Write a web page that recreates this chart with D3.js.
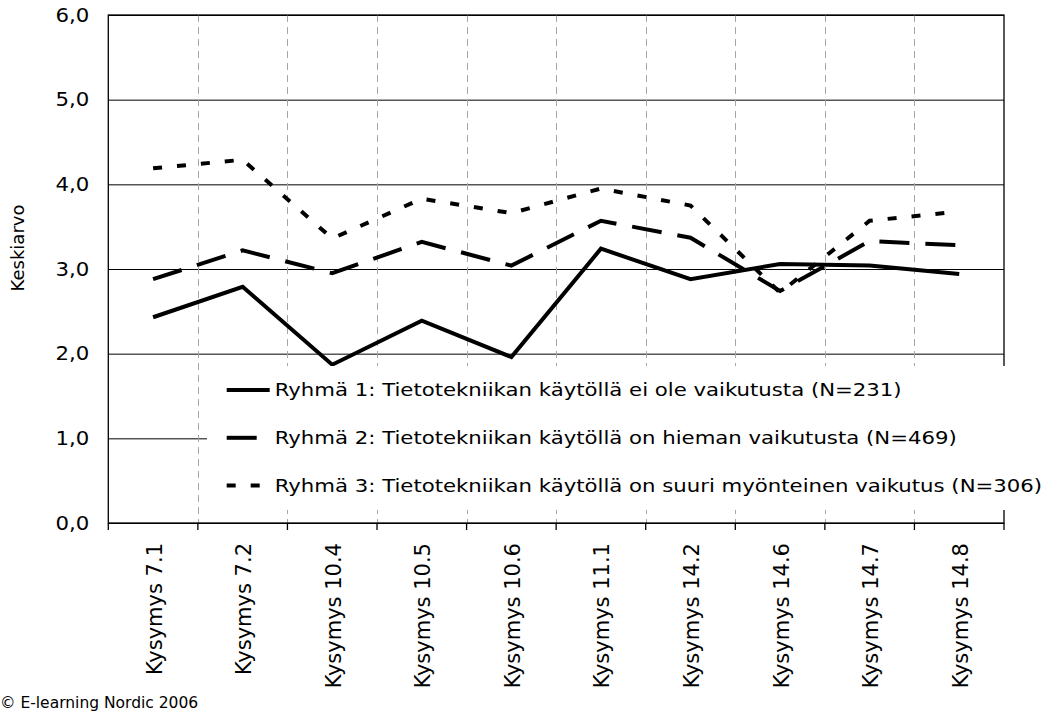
<!DOCTYPE html>
<html>
<head>
<meta charset="utf-8">
<script src="https://cdn.jsdelivr.net/npm/d3@7"></script>
<style>
  body { margin: 0; background: #fff; }
  text { font-family: "DejaVu Sans", Verdana, sans-serif; fill: #000; }
</style>
</head>
<body>
<div id="chart"></div>
<script>
// values
var categories = ["Kysymys 7.1", "Kysymys 7.2", "Kysymys 10.4", "Kysymys 10.5", "Kysymys 10.6",
                  "Kysymys 11.1", "Kysymys 14.2", "Kysymys 14.6", "Kysymys 14.7", "Kysymys 14.8"];
var ryhma1 = [2.43, 2.79, 1.87, 2.39, 1.96, 3.24, 2.88, 3.06, 3.04, 2.94];
var ryhma2 = [2.88, 3.22, 2.95, 3.32, 3.04, 3.57, 3.37, 2.74, 3.33, 3.28];
var ryhma3 = [4.19, 4.29, 3.36, 3.83, 3.66, 3.95, 3.75, 2.72, 3.57, 3.68];
var seriesNames = [
    "Ryhmä 1: Tietotekniikan käytöllä ei ole vaikutusta (N=231)",
    "Ryhmä 2: Tietotekniikan käytöllä on hieman vaikutusta (N=469)",
    "Ryhmä 3: Tietotekniikan käytöllä on suuri myönteinen vaikutus (N=306)"
];
var yTicks = [0, 1, 2, 3, 4, 5, 6];
var yTitle = "Keskiarvo";
var footer = "© E-learning Nordic 2006";

var width = 1058,
    height = 712;
// "top" is taken by window.top, so plot edges get their own names
var plotLeft = 108.3, plotRight = 1004, plotTop = 15, plotBottom = 523;

var series = [ryhma1, ryhma2, ryhma3];
var dashes = [null, "30,16", "9,15"];

var svg = d3.select("#chart")
    .append("svg")
    .attr("width", width)
    .attr("height", height);

var x = d3.scaleBand()
    .domain(categories)
    .range([plotLeft, plotRight])
    .padding(0);

var y = d3.scaleLinear()
    .domain([0, 6])
    .range([plotBottom, plotTop]);

var fmt = d => d3.format(".1f")(d).replace(".", ",");

// horizontal gridlines
svg.append("g")
    .attr("transform", "translate(" + plotLeft + ",0)")
    .call(d3.axisLeft(y).tickValues(yTicks).tickSize(-(plotRight - plotLeft)).tickFormat(""))
    .call(g => g.select(".domain").remove())
    .selectAll("line")
    .attr("stroke", "#000")
    .attr("stroke-width", 1);

// dashed vertical gridlines between categories
svg.append("g")
    .selectAll("line")
    .data(categories.slice(1))
    .enter()
    .append("line")
    .attr("x1", d => Math.round(x(d)) + 0.5)
    .attr("x2", d => Math.round(x(d)) + 0.5)
    .attr("y1", plotTop)
    .attr("y2", plotBottom)
    .attr("stroke", "#a6a6a6")
    .attr("stroke-width", 1)
    .attr("stroke-dasharray", "7,5");

// plot border
svg.append("rect")
    .attr("x", plotLeft)
    .attr("y", plotTop)
    .attr("width", plotRight - plotLeft)
    .attr("height", plotBottom - plotTop)
    .attr("fill", "none")
    .attr("stroke", "#000")
    .attr("stroke-width", 1.3);

// y labels (the source font is a bit wider than tall)
svg.append("g")
    .attr("transform", "translate(" + plotLeft + ",0)")
    .call(d3.axisLeft(y).tickValues(yTicks).tickSize(0).tickPadding(18).tickFormat(fmt))
    .call(g => g.select(".domain").remove())
    .selectAll("text")
    .style("font-size", "19px")
    .style("font-family", "'DejaVu Sans', Verdana, sans-serif")
    .attr("fill", "#000")
    .attr("transform", "translate(-1,0) scale(1.12,1)")
    .attr("x", -18 / 1.12);

// x axis ticks on band edges
svg.append("g")
    .selectAll("line")
    .data(categories.concat(["end"]))
    .enter()
    .append("line")
    .attr("x1", (d, i) => i < categories.length ? x(d) : plotRight)
    .attr("x2", (d, i) => i < categories.length ? x(d) : plotRight)
    .attr("y1", plotBottom)
    .attr("y2", plotBottom + 7)
    .attr("stroke", "#000")
    .attr("stroke-width", 1.3);

// category labels
svg.append("g")
    .selectAll("text")
    .data(categories)
    .enter()
    .append("text")
    .attr("transform", d => "translate(" + (x(d) + x.bandwidth() / 2 + 1) + "," + (plotBottom + 20) + ") rotate(-90)")
    .attr("text-anchor", "end")
    .attr("dy", "0.36em")
    .style("font-size", "21px")
    .text(d => d);

// lines
var line = d3.line()
    .x((d, i) => x(categories[i]) + x.bandwidth() / 2)
    .y(d => y(d));

svg.append("g")
    .selectAll("path")
    .data(series)
    .enter()
    .append("path")
    .attr("d", d => line(d))
    .attr("fill", "none")
    .attr("stroke", "#000")
    .attr("stroke-width", 4)
    .attr("stroke-linejoin", "miter")
    .attr("stroke-dasharray", (d, i) => dashes[i]);

// legend, white box over the lower part of the plot
var legend = svg.append("g");
legend.append("rect")
    .attr("x", 207)
    .attr("y", 366)
    .attr("width", width - 207)
    .attr("height", 144)
    .attr("fill", "#fff");

var rows = legend.selectAll("g.row")
    .data(seriesNames)
    .enter()
    .append("g")
    .attr("class", "row")
    .attr("transform", (d, i) => "translate(226.7," + (390 + i * 47.8) + ")");

rows.append("line")
    .attr("x1", 0)
    .attr("x2", 43)
    .attr("stroke", "#000")
    .attr("stroke-width", 4)
    .attr("stroke-dasharray", (d, i) => dashes[i]);

rows.append("text")
    .attr("transform", "translate(48,0) scale(1.18,1)")
    .attr("dy", "0.36em")
    .style("font-size", "18px")
    .text(d => d);

// y title
svg.append("text")
    .attr("transform", "translate(18," + 248 + ") rotate(-90)")
    .attr("text-anchor", "middle")
    .attr("dy", "0.36em")
    .style("font-size", "18px")
    .text(yTitle);

svg.append("text")
    .attr("x", 0)
    .attr("y", 708)
    .style("font-size", "15.5px")
    .text(footer);
</script>
</body>
</html>
